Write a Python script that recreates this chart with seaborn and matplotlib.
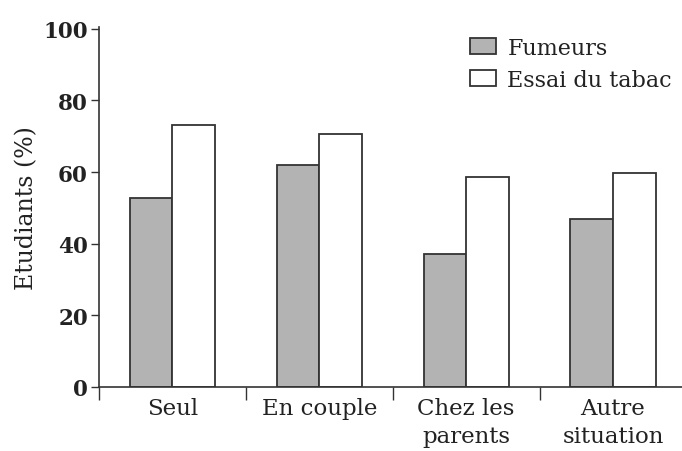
import matplotlib
matplotlib.use("Agg")
import matplotlib.pyplot as plt
import seaborn as sns
import pandas as pd
from matplotlib.ticker import FixedLocator

categories = ["Seul", "En couple", "Chez les\nparents", "Autre\nsituation"]
series_names = ["Fumeurs", "Essai du tabac"]
fumeurs = [52.7, 62.0, 37.1, 47.0]
essai = [73.1, 70.6, 58.6, 59.8]
y_ticks = [0, 20, 40, 60, 80, 100]

df = pd.DataFrame({
    "cat": categories * 2,
    "serie": [series_names[0]] * 4 + [series_names[1]] * 4,
    "val": fumeurs + essai,
})

sns.set_theme(style="ticks")
plt.rcParams["font.family"] = ["DejaVu Serif"]

fig = plt.figure(figsize=(6.82, 4.52), dpi=100)
ax = fig.add_axes([99 / 682, 1 - 388 / 452, (682 - 99) / 682, (388 - 28) / 452])

sns.barplot(data=df, x="cat", y="val", hue="serie", order=categories,
            hue_order=series_names, palette=["#b3b3b3", "#ffffff"],
            width=0.58, edgecolor="#333333", linewidth=1.3, ax=ax,
            saturation=1, errorbar=None)

ax.set_xlim(-0.5, 3.47)
ax.set_ylim(0, 100.5)
ax.set_yticks(y_ticks)
ax.set_yticklabels([str(t) for t in y_ticks], fontsize=15.5, fontweight="bold", color="#222222")
ax.set_xticks(range(4))
ax.set_xticklabels(categories, fontsize=16.5, color="#222222", linespacing=1.35)
ax.tick_params(axis="x", which="major", length=0, pad=7)
ax.xaxis.set_minor_locator(FixedLocator([-0.5, 0.5, 1.5, 2.5]))
ax.tick_params(axis="x", which="minor", length=9, width=1, color="#333333", direction="out")
ax.tick_params(axis="y", length=6, width=1, color="#333333", direction="out", pad=2)
ax.set_xlabel("")
ax.set_ylabel("Etudiants (%)", fontsize=17, color="#222222", labelpad=4)
for s in ["top", "right"]:
    ax.spines[s].set_visible(False)
for s in ["left", "bottom"]:
    ax.spines[s].set_color("#333333")
    ax.spines[s].set_linewidth(1.2)

leg = ax.legend(loc="upper right", bbox_to_anchor=(0.998, 0.998), frameon=False,
                fontsize=16, handlelength=1.2, handleheight=0.75,
                handletextpad=0.5, labelspacing=0.45, borderaxespad=0)
for t in leg.get_texts():
    t.set_color("#222222")

fig.savefig("out.png", dpi=100)
